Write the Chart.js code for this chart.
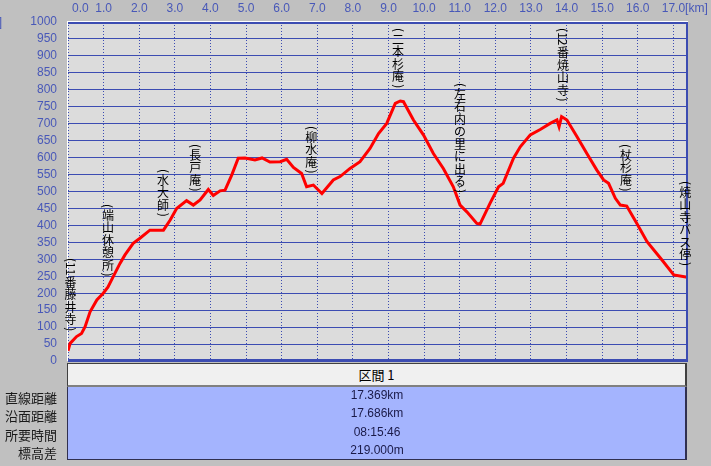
<!DOCTYPE html>
<html>
<head>
<meta charset="utf-8">
<script src="https://cdn.jsdelivr.net/npm/chart.js@4"></script>
<style>
  body { margin: 0; background: #c0c0c0; }
  #wrap { position: relative; width: 711px; height: 466px; overflow: hidden; background: #c0c0c0; }
  #myChart { position: absolute; left: 0; top: 0; }
  .head { position: absolute; left: 67px; top: 363px; width: 620px; height: 24px; box-sizing: border-box;
    background: #f0f0f0; border-top: 1px solid #404040; border-left: 1px solid #404040;
    border-right: 2px solid #404040; border-bottom: 2px solid #808080;
    font: 13px "Noto Sans CJK JP"; color: #000; text-align: center; line-height: 21px; }
  .body { position: absolute; left: 67px; top: 387px; width: 620px; height: 73px; box-sizing: border-box;
    background: #a4b4fe; border-left: 1px solid #303050; border-right: 2px solid #303050; border-bottom: 1px solid #303050; }
  .val { position: absolute; left: 67px; width: 620px; height: 18px; line-height: 18px; text-align: center;
    font: 12px "Liberation Sans"; color: #1a1a48; }
  .lbl { position: absolute; left: 0; width: 57px; height: 18px; line-height: 18px; text-align: right;
    font: 13px "Noto Sans CJK JP"; color: #1a1a1a; }
</style>
</head>
<body>
<div id="wrap">
  <canvas id="myChart" width="711" height="466"></canvas>
</div>
<script>
// elevation profile (distance km / elevation m)
const distKm = [0, 0.06, 0.24, 0.38, 0.48, 0.62, 0.81, 0.99, 1.12, 1.27, 1.46, 1.60, 1.83, 2.02, 2.30, 2.68,
  2.87, 3.05, 3.33, 3.52, 3.71, 3.94, 4.08, 4.27, 4.41, 4.60, 4.78, 4.97, 5.25, 5.45, 5.67, 5.96, 6.14,
  6.33, 6.56, 6.70, 6.89, 7.13, 7.45, 7.64, 7.92, 8.20, 8.48, 8.72, 8.95, 9.19, 9.33, 9.42, 9.70, 9.98,
  10.26, 10.54, 10.82, 11.01, 11.20, 11.48, 11.57, 11.85, 12.09, 12.22, 12.51, 12.70, 12.98, 13.26, 13.54,
  13.73, 13.79, 13.86, 14.01, 14.29, 14.57, 14.85, 15.04, 15.18, 15.37, 15.51, 15.69, 15.97, 16.26, 16.68,
  17.01, 17.39];
const elevM = [30, 52, 72, 81, 101, 145, 180, 200, 218, 249, 288, 313, 347, 362, 386, 386,
  416, 450, 473, 460, 475, 506, 488, 502, 504, 549, 598, 599, 593, 599, 587, 588, 595,
  571, 553, 514, 519, 494, 534, 544, 568, 588, 627, 671, 701, 760, 767, 765, 711, 667,
  612, 568, 514, 460, 440, 406, 404, 465, 514, 524, 598, 632, 667, 683, 701,
  711, 691, 721, 711, 662, 612, 563, 534, 524, 480, 460, 457, 406, 352, 298,
  254, 247];

const xTickValues = [0, 1, 2, 3, 4, 5, 6, 7, 8, 9, 10, 11, 12, 13, 14, 15, 16, 17];
const yTickValues = [0, 50, 100, 150, 200, 250, 300, 350, 400, 450, 500, 550, 600, 650, 700, 750, 800, 850, 900, 950, 1000];

// waypoints written vertically above the profile
const waypointNames = ['(11番藤井寺)', '(端山休憩所)', '(水大師)', '(長戸庵)', '(柳水庵)',
  '(二本杉庵)', '(左右内の里に出る)', '(12番焼山寺)', '(杖杉庵)', '(焼山寺バス停)'];
const waypointKm = [0.07, 1.12, 2.67, 3.57, 6.83, 9.27, 11.01, 13.9, 15.67, 17.33];
const waypointTopM = [307, 466, 569, 643, 696, 985, 823, 985, 643, 534];

const sectionTitle = '区間 1';
const rowLabels = ['直線距離', '沿面距離', '所要時間', '標高差'];
const rowValues = ['17.369km', '17.686km', '08:15:46', '219.000m'];

let wrap = document.getElementById('wrap');
let head = document.createElement('div');
head.className = 'head';
head.textContent = sectionTitle;
wrap.appendChild(head);
let body = document.createElement('div');
body.className = 'body';
wrap.appendChild(body);
for (let i = 0; i < rowLabels.length; i++) {
  let top = 388 + i * 18.3;
  let l = document.createElement('div');
  l.className = 'lbl';
  l.style.top = top + 'px';
  l.textContent = rowLabels[i];
  wrap.appendChild(l);
  let v = document.createElement('div');
  v.className = 'val';
  v.style.top = top + 'px';
  v.textContent = rowValues[i];
  wrap.appendChild(v);
}

const BLUE = '#3c4cb2';
const TEXTBLUE = '#4858b8';

function drawVertical(ctx, text, cx, top) {
  let y = top;
  let i = 0;
  while (i < text.length) {
    if (/[\x20-\x7e]/.test(text[i])) {
      let run = '';
      while (i < text.length && /[\x20-\x7e]/.test(text[i])) { run += text[i]; i++; }
      let w = ctx.measureText(run).width;
      ctx.save();
      ctx.translate(cx, y + 1);
      ctx.rotate(Math.PI / 2);
      ctx.textAlign = 'left';
      ctx.textBaseline = 'middle';
      ctx.fillText(run, 0, 0);
      ctx.restore();
      y += w + 2;
    } else {
      ctx.textAlign = 'center';
      ctx.textBaseline = 'top';
      ctx.fillText(text[i], cx, y);
      y += 12.5;
      i++;
    }
  }
}

const profilePlugin = {
  id: 'profilePlugin',
  beforeDraw(chart) {
    let ctx = chart.ctx;
    let a = chart.chartArea;
    ctx.save();
    ctx.fillStyle = '#c0c0c0';
    ctx.fillRect(0, 0, chart.width, chart.height);
    ctx.fillStyle = '#dcdcdc';
    ctx.fillRect(a.left, a.top, a.right - a.left, a.bottom - a.top);
    ctx.restore();
  },
  afterDraw(chart) {
    let ctx = chart.ctx;
    let a = chart.chartArea;
    let xs = chart.scales.x;
    let ys = chart.scales.y;
    ctx.save();
    // frame
    ctx.fillStyle = '#ffffff';
    ctx.fillRect(a.left - 1, a.top - 1, a.right - a.left + 1, 1);
    ctx.fillRect(a.left - 1, a.top - 1, 1, a.bottom - a.top + 1);
    ctx.fillStyle = BLUE;
    ctx.fillRect(a.left, a.top, a.right - a.left, 2);
    ctx.fillRect(a.right - 2, a.top, 2, a.bottom - a.top);
    ctx.fillRect(a.left, a.bottom - 2, a.right - a.left, 2);
    // x tick labels along the top
    ctx.font = '12px "Liberation Sans"';
    ctx.fillStyle = TEXTBLUE;
    ctx.textBaseline = 'middle';
    ctx.textAlign = 'left';
    for (let i = 0; i < xTickValues.length; i++) {
      let v = xTickValues[i];
      let s = v.toFixed(1);
      let px = xs.getPixelForValue(v);
      let left = px - ctx.measureText(s).width / 2;
      if (i == 0) left = a.left + 4;
      if (i == xTickValues.length - 1) s += '[km]';
      ctx.fillText(s, left, 9);
    }
    ctx.textAlign = 'right';
    ctx.fillText('[m]', 2, 23);
    // waypoint names
    ctx.font = '12px "Noto Sans CJK JP"';
    ctx.fillStyle = '#000000';
    for (let i = 0; i < waypointNames.length; i++) {
      drawVertical(ctx, waypointNames[i], xs.getPixelForValue(waypointKm[i]), ys.getPixelForValue(waypointTopM[i]));
    }
    ctx.restore();
  }
};

const ctx = document.getElementById('myChart').getContext('2d');
let myChart = new Chart(ctx, {
  type: 'line',
  data: {
    datasets: [{
      data: distKm.map((k, i) => ({ x: k, y: elevM[i] })),
      borderColor: '#ff0000',
      borderWidth: 3,
      pointRadius: 0,
      tension: 0,
      fill: false
    }]
  },
  options: {
    responsive: false,
    animation: false,
    devicePixelRatio: 1,
    layout: { padding: { left: 0, top: 0, right: 23, bottom: 105 } },
    plugins: { legend: { display: false }, tooltip: { enabled: false } },
    scales: {
      x: {
        type: 'linear',
        position: 'top',
        min: 0,
        max: 17.41,
        afterBuildTicks: (s) => { s.ticks = xTickValues.map(v => ({ value: v })); },
        afterFit: (s) => { s.height = 22; },
        ticks: { display: false },
        grid: { color: BLUE, lineWidth: 1, drawTicks: false },
        border: { display: false, dash: [1, 2] }
      },
      y: {
        min: 0,
        max: 1000,
        afterBuildTicks: (s) => { s.ticks = yTickValues.map(v => ({ value: v })); },
        afterFit: (s) => { s.width = 68; },
        ticks: {
          autoSkip: false,
          padding: 11,
          color: TEXTBLUE,
          font: { family: 'Liberation Sans', size: 12 },
          callback: (v) => String(v)
        },
        grid: { color: BLUE, lineWidth: 1, drawTicks: false },
        border: { display: false }
      }
    }
  },
  plugins: [profilePlugin]
});
</script>
</body>
</html>
